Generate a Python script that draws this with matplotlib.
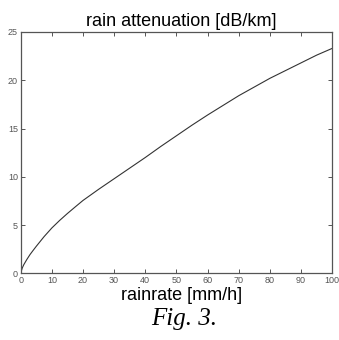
import numpy as np
import matplotlib
matplotlib.use("Agg")
import matplotlib.pyplot as plt

# rain rate [mm/h] and specific attenuation [dB/km]
rainrate = [0, 0.5, 1, 2, 3, 4, 5, 7.5, 10, 12.5, 15, 17.5, 20, 25, 30, 35, 40,
            45, 50, 55, 60, 65, 70, 75, 80, 85, 90, 95, 100]
attenuation = [0, 0.55, 0.9, 1.45, 1.95, 2.38, 2.8, 3.8, 4.7, 5.48, 6.2, 6.88,
               7.55, 8.7, 9.8, 10.9, 12.0, 13.15, 14.25, 15.35, 16.4, 17.4,
               18.4, 19.3, 20.2, 21.0, 21.8, 22.6, 23.3]

xticks = list(range(0, 101, 10))
yticks = list(range(0, 26, 5))

plt.rcParams['font.family'] = ['Liberation Sans', 'DejaVu Sans']

fig = plt.figure(figsize=(3.39, 3.40), dpi=100)
ax = fig.add_axes([0.061, 0.196, 0.919, 0.710])

ax.plot(rainrate, attenuation, color='#333333', linewidth=0.8)

ax.set_xlim(0, 100)
ax.set_ylim(0, 25)
ax.set_xticks(xticks)
ax.set_yticks(yticks)
ax.tick_params(direction='in', top=True, right=True, length=3, width=0.7,
               labelsize=6.5, colors='#555555', pad=2)
for s in ax.spines.values():
    s.set_color('#555555')
    s.set_linewidth(0.9)

ax.set_title('rain attenuation [dB/km]', fontsize=13, pad=4, x=0.515)
ax.set_xlabel('rainrate [mm/h]', fontsize=13, labelpad=1, x=0.515)

fig.text(0.543, 0.062, 'Fig. 3.', fontsize=18, style='italic',
         family='Liberation Serif', ha='center', va='center')

fig.savefig('out.png', dpi=100)
plt.close(fig)
